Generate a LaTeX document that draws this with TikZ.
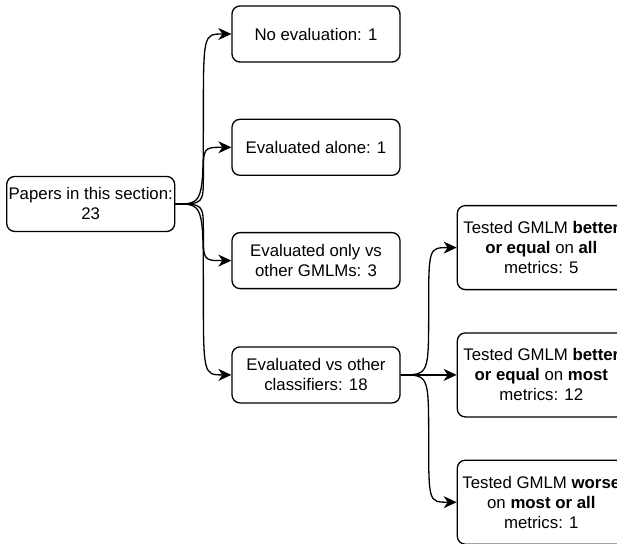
\documentclass[tikz,border=0pt]{standalone}
\usepackage{fontspec}
\setmainfont{Liberation Sans}
\usepackage{tikz}
\usetikzlibrary{positioning}
\usetikzlibrary{calc}
\usetikzlibrary{arrows.meta}

\begin{document}
\begin{tikzpicture}[
            x = 1pt, y = -1pt,
            > = {Stealth[length=13pt, width=12pt, inset=4pt]}, % arrow head style
            line width = 1.3pt, % line style
            font = \fontsize{16.8}{20}\selectfont
            ]

        \tikzset{
            box/.style = {
                draw = black,
                fill = white,
                rounded corners = 8pt,
                align = center,
                inner sep = 0pt,
                minimum width = 168pt,
                minimum height = 56pt
            },
            tallbox/.style = {box, minimum height = 84pt},
            curvy/.style = {to path = {let \p1 = (\tikztostart), \p2 = (\tikztotarget) in
                .. controls (\x1/2+\x2/2, \y1) .. (\x1/2+\x2/2, \y1/2+\y2/2)
                .. controls (\x1/2+\x2/2, \y2) .. (\tikztotarget)}}
        }

        \useasboundingbox (0,0) rectangle (617,543);

	% first level
	\node[box] (none) at (316,34) {No evaluation: 1};
	\node[box] (alone) [below = 56pt of none] {Evaluated alone: 1};
	\node[box] (gmlms) [below = 56pt of alone] {Evaluated only vs\\ other GMLMs: 3};
	\node[box] (classif) [below = 57pt of gmlms] {Evaluated vs other\\ classifiers: 18};

	% root
	\coordinate (mid) at ($(alone.west)!.5!(gmlms.west)$);
	\node[box, minimum height = 55pt] (papers) [left = 56pt of mid] {Papers in this section:\\ 23};

	% second level
	\node[tallbox] (most) [right = 56pt of classif] {Tested GMLM \textbf{better}\\ \textbf{or equal} on \textbf{most}\\ metrics: 12};
	\node[tallbox] (all) [above = 42pt of most] {Tested GMLM \textbf{better}\\ \textbf{or equal} on \textbf{all}\\ metrics: 5};
	\node[tallbox] (worse) [below = 42pt of most] {Tested GMLM \textbf{worse}\\ on \textbf{most or all}\\ metrics: 1};

	% edges
	\draw[->] (papers.east) to[curvy] (none.west);
	\draw[->] (papers.east) to[curvy] (alone.west);
	\draw[->] (papers.east) to[curvy] (gmlms.west);
	\draw[->] (papers.east) to[curvy] (classif.west);

	\draw[->] (classif.east) to[curvy] (all.west);
	\draw[->] (classif.east) to[curvy] (most.west);
	\draw[->] (classif.east) to[curvy] (worse.west);

  \end{tikzpicture}
\end{document}
